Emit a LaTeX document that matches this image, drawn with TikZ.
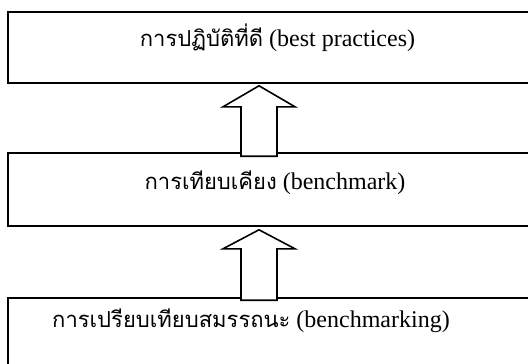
\documentclass[tikz,border=0pt]{standalone}
\usepackage{fontspec}
\setmainfont{Liberation Serif}
\newfontfamily\thaifont[Script=Thai]{Loma}
\usetikzlibrary{calc}

\newcommand{\thaipart}[1]{{\thaifont\fontsize{22}{26}\selectfont #1}}
\newcommand{\latinpart}[1]{{\fontsize{24}{28}\selectfont\ #1}}

\begin{document}
\begin{tikzpicture}
  [x=1pt, y=-1pt]
  \tikzstyle{level} = [draw=black, line width=1.6pt, minimum width=530pt, inner sep=0pt];
  \tikzstyle{caption} = [inner sep=0pt, anchor=base];
  \tikzstyle{up_arrow} = [draw=black, line width=1.6pt, fill=white, line join=miter];

  \useasboundingbox (0, 0) rectangle (528, 364);
  \clip (0, 0) rectangle (528, 364);

  \node[level, minimum height=71pt] (practice) at (273, 47.5) {};
  \node[level, minimum height=73pt] (compare)  at (273, 189.5) {};
  \node[level, minimum height=73pt] (measure)  at (273, 334.5) {};

  \node[caption] (practice_text) at (277.5, 46)
    {\thaipart{การปฏิบัติที่ดี}\latinpart{(best practices)}};
  \node[caption] (compare_text) at (275, 189)
    {\thaipart{การเทียบเคียง}\latinpart{(benchmark)}};
  \node[caption] (measure_text) at (251, 327)
    {\thaipart{การเปรียบเทียบสมรรถนะ}\latinpart{(benchmarking)}};

  \coordinate (col) at (259, 0);

  \coordinate (tip_a)  at ($(practice.south -| col)+(0,2)$);
  \coordinate (foot_a) at ($(compare.north -| col)+(0,4)$);
  \coordinate (tip_b)  at ($(compare.south -| col)+(0,3)$);
  \coordinate (foot_b) at ($(measure.north -| col)+(0,3)$);

  \draw[up_arrow] (tip_a) -- ++(36,21) -- ++(-18,0) |- (foot_a) -- ++(-18,0)
    |- ($(tip_a)+(-36,21)$) -- cycle;
  \draw[up_arrow] (tip_b) -- ++(36,19) -- ++(-18,0) |- (foot_b) -- ++(-18,0)
    |- ($(tip_b)+(-36,19)$) -- cycle;

\end{tikzpicture}
\end{document}
